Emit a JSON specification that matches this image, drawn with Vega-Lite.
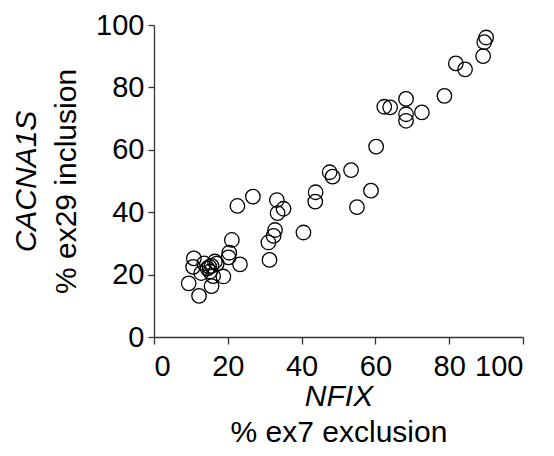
{
  "$schema": "https://vega.github.io/schema/vega-lite/v6.json",
  "autosize": "none",
  "width": 369,
  "height": 312,
  "padding": {"left": 154, "top": 25, "right": 31, "bottom": 119},
  "background": "white",
  "config": {
    "view": {"stroke": null},
    "axis": {
      "grid": false,
      "labelFont": "Liberation Sans",
      "titleFont": "Liberation Sans",
      "labelFontSize": 29,
      "titleFontSize": 30,
      "labelColor": "black",
      "titleColor": "black",
      "titleFontWeight": "normal",
      "domainColor": "#333",
      "tickColor": "#333",
      "domainWidth": 1.3,
      "tickWidth": 1.3
    }
  },
  "data": {
    "values": [
      {"nfix": 90.0, "cacna1s": 96.0},
      {"nfix": 89.5, "cacna1s": 94.5},
      {"nfix": 89.2, "cacna1s": 90.0},
      {"nfix": 81.8, "cacna1s": 87.7},
      {"nfix": 84.3, "cacna1s": 85.8},
      {"nfix": 78.7, "cacna1s": 77.3},
      {"nfix": 68.3, "cacna1s": 76.3},
      {"nfix": 72.6, "cacna1s": 72.0},
      {"nfix": 68.3, "cacna1s": 71.4},
      {"nfix": 68.3, "cacna1s": 69.3},
      {"nfix": 62.4, "cacna1s": 73.8},
      {"nfix": 64.0, "cacna1s": 73.6},
      {"nfix": 60.2, "cacna1s": 61.0},
      {"nfix": 58.8, "cacna1s": 46.9},
      {"nfix": 55.0, "cacna1s": 41.6},
      {"nfix": 53.4, "cacna1s": 53.5},
      {"nfix": 47.6, "cacna1s": 52.8},
      {"nfix": 48.4, "cacna1s": 51.4},
      {"nfix": 43.8, "cacna1s": 46.4},
      {"nfix": 43.7, "cacna1s": 43.4},
      {"nfix": 40.5, "cacna1s": 33.5},
      {"nfix": 35.1, "cacna1s": 41.1},
      {"nfix": 33.3, "cacna1s": 43.9},
      {"nfix": 33.5, "cacna1s": 39.7},
      {"nfix": 32.8, "cacna1s": 34.3},
      {"nfix": 32.4, "cacna1s": 32.4},
      {"nfix": 31.0, "cacna1s": 30.3},
      {"nfix": 31.3, "cacna1s": 24.7},
      {"nfix": 26.8, "cacna1s": 45.0},
      {"nfix": 22.6, "cacna1s": 42.0},
      {"nfix": 21.1, "cacna1s": 31.1},
      {"nfix": 20.4, "cacna1s": 27.0},
      {"nfix": 20.2, "cacna1s": 25.5},
      {"nfix": 23.3, "cacna1s": 23.3},
      {"nfix": 18.8, "cacna1s": 19.4},
      {"nfix": 15.6, "cacna1s": 16.3},
      {"nfix": 12.2, "cacna1s": 13.2},
      {"nfix": 9.4, "cacna1s": 17.2},
      {"nfix": 10.8, "cacna1s": 25.2},
      {"nfix": 10.6, "cacna1s": 22.5},
      {"nfix": 12.8, "cacna1s": 20.5},
      {"nfix": 13.6, "cacna1s": 23.6},
      {"nfix": 15.2, "cacna1s": 21.0},
      {"nfix": 15.6, "cacna1s": 22.8},
      {"nfix": 16.5, "cacna1s": 24.2},
      {"nfix": 16.0, "cacna1s": 19.5},
      {"nfix": 15.0, "cacna1s": 22.5},
      {"nfix": 17.0, "cacna1s": 23.5},
      {"nfix": 14.5, "cacna1s": 22.0}
    ]
  },
  "layer": [
    {
      "mark": {"type": "point", "shape": "circle", "filled": false, "size": 210, "stroke": "black", "strokeWidth": 1.3, "opacity": 1},
      "encoding": {
        "x": {"field": "nfix", "type": "quantitative", "scale": {"domain": [0, 100], "nice": false, "zero": true},
              "axis": {"values": [0, 20, 40, 60, 80, 100], "title": "% ex7 exclusion", "titlePadding": 36, "labelPadding": 8, "tickSize": 7}},
        "y": {"field": "cacna1s", "type": "quantitative", "scale": {"domain": [0, 100], "nice": false},
              "axis": {"values": [0, 20, 40, 60, 80, 100], "title": "% ex29 inclusion", "titlePadding": 14, "labelPadding": 4, "tickSize": 6}}
      }
    },
    {
      "mark": {"type": "point", "opacity": 0},
      "encoding": {
        "x": {"field": "nfix", "type": "quantitative",
              "axis": {"orient": "bottom", "title": "NFIX", "titleFontStyle": "italic", "labels": false, "ticks": false, "domain": false, "titlePadding": 44}},
        "y": {"field": "cacna1s", "type": "quantitative",
              "axis": {"orient": "left", "title": "CACNA1S", "titleFontStyle": "italic", "labels": false, "ticks": false, "domain": false, "titlePadding": 113}}
      }
    }
  ],
  "resolve": {"axis": {"x": "independent", "y": "independent"}}
}
